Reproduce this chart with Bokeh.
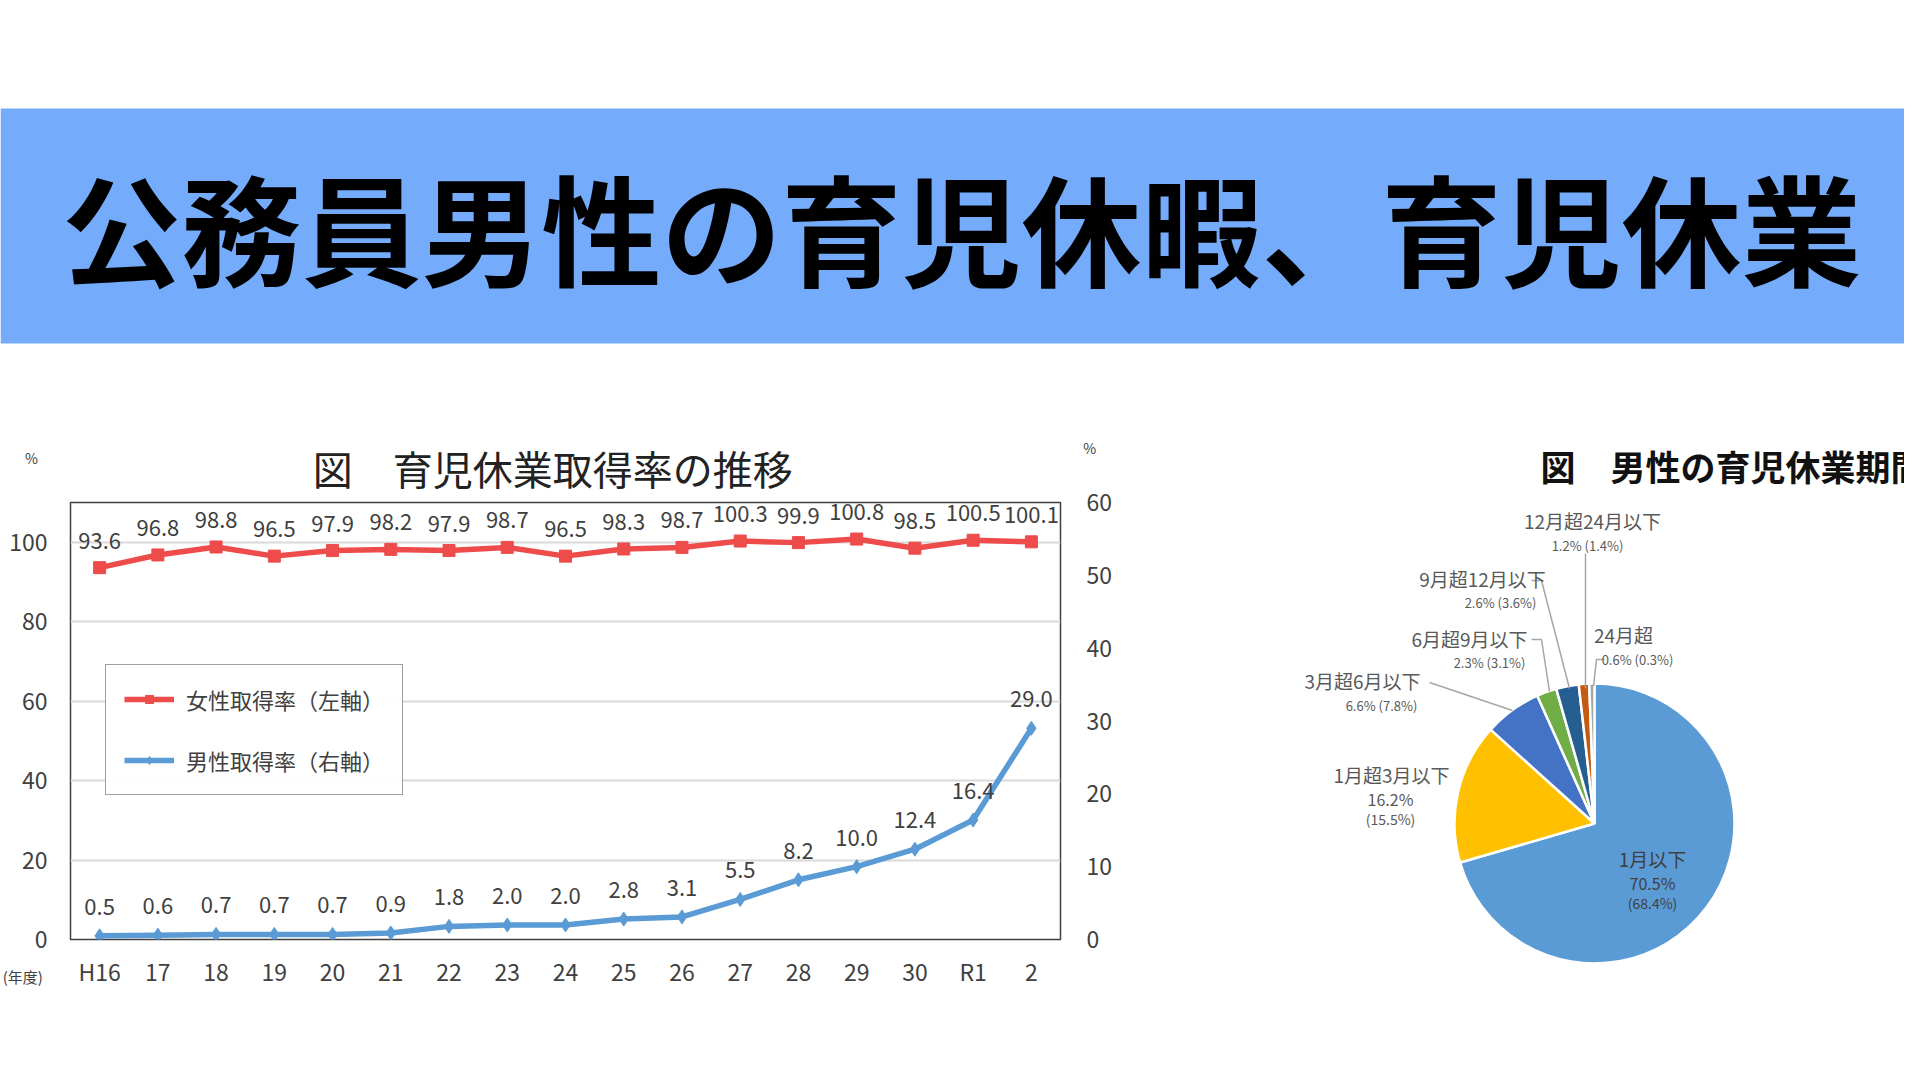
from bokeh.plotting import figure
from bokeh.models import Range1d, LinearAxis, FactorRange, FixedTicker, Legend, LegendItem, Label, ColumnDataSource
from bokeh.layouts import column, row
from bokeh.embed import file_html
from bokeh.resources import INLINE
from bokeh.core.properties import value
import numpy as np

FONT = "Noto Sans CJK JP"
TXT = "#404040"

# ---------------- data ----------------
banner_title = "公務員男性の育児休暇、育児休業"

line_title = "図　育児休業取得率の推移"
years = ["H16", "17", "18", "19", "20", "21", "22", "23", "24", "25", "26", "27", "28", "29", "30", "R1", "2"]
women = [93.6, 96.8, 98.8, 96.5, 97.9, 98.2, 97.9, 98.7, 96.5, 98.3, 98.7, 100.3, 99.9, 100.8, 98.5, 100.5, 100.1]
men = [0.5, 0.6, 0.7, 0.7, 0.7, 0.9, 1.8, 2.0, 2.0, 2.8, 3.1, 5.5, 8.2, 10.0, 12.4, 16.4, 29.0]
women_label = "女性取得率（左軸）"
men_label = "男性取得率（右軸）"
left_ticks = [0, 20, 40, 60, 80, 100]
right_ticks = [0, 10, 20, 30, 40, 50, 60]
unit_label = "%"
year_unit = "(年度)"

pie_title = "図　男性の育児休業期間の状況"
periods = ["1月以下", "1月超3月以下", "3月超6月以下", "6月超9月以下", "9月超12月以下", "12月超24月以下", "24月超"]
share = [70.5, 16.2, 6.6, 2.3, 2.6, 1.2, 0.6]
share_prev = [68.4, 15.5, 7.8, 3.1, 3.6, 1.4, 0.3]

# ---------------- styles / layout ----------------
BANNER = "#74ACFB"
RED = "#EE4B4B"
BLUE = "#5B9BD5"
pie_colors = ["#5B9BD5", "#FFC000", "#4472C4", "#70AD47", "#255E91", "#C55A11", "#A5A5A5"]

W = 1904
TOP_H = 400
BH = 1064 - TOP_H
LW = 1130
PW = W - LW

# pie label layout: (name_x, name_y, value_x, value_y, stacked)
pie_label_pos = [
    (522, 206, 522, 182, True),
    (261, 290, 260, 266, True),
    (232, 384, 251, 359, False),
    (339, 426, 359, 402, False),
    (352, 486, 370, 462, False),
    (462, 544, 457, 519, False),
    (493, 430, 507, 405, False),
]
leader_xs = [[299, 382], [401, 411, 419], [401, 411, 439], [455, 455], [474, 466, 463]]
leader_ys = [[382, 354], [425, 425, 373], [484, 484, 376], [511, 376], [405, 405, 378]]
PIE_X, PIE_Y, PIE_R = 464, 241, 140

# ---------------- top canvas: banner ----------------
top = figure(width=W, height=TOP_H, x_range=Range1d(0, W), y_range=Range1d(0, TOP_H),
             output_backend="svg", toolbar_location=None, min_border=0,
             x_axis_location=None, y_axis_location=None, tools="")
top.grid.visible = False
top.outline_line_color = None
top.quad(left=0, right=W, bottom=TOP_H - 343, top=TOP_H - 108, fill_color=BANNER, line_color=None)
top.text(x=[961], y=[TOP_H - 225], text=[banner_title], text_font=value(FONT), text_font_size="120px",
         text_font_style="bold", text_align="center", text_baseline="middle", text_color="black")

# ---------------- line chart ----------------
src = ColumnDataSource(dict(
    year=years, women=women, men=men,
    wt=[f"{v:.1f}" for v in women], mt=[f"{v:.1f}" for v in men],
))

lp = figure(width=LW, height=BH, x_range=FactorRange(*years), y_range=Range1d(0, 110),
            output_backend="svg", toolbar_location=None, tools="",
            min_border_left=70, min_border_right=LW - 1060, min_border_top=502 - TOP_H,
            min_border_bottom=1064 - 939)
lp.frame_align = False
lp.extra_y_ranges = {"right": Range1d(0, 60)}
lp.outline_line_color = TXT
lp.outline_line_width = 1.5
lp.xgrid.visible = False
lp.ygrid.ticker = FixedTicker(ticks=left_ticks)
lp.ygrid.grid_line_color = "#D9D9D9"
lp.ygrid.grid_line_width = 2

lp.yaxis.ticker = FixedTicker(ticks=left_ticks)
raxis = LinearAxis(y_range_name="right", ticker=FixedTicker(ticks=right_ticks))
lp.add_layout(raxis, "right")
for ax in [lp.yaxis[0], raxis, lp.xaxis[0]]:
    ax.axis_line_color = None
    ax.major_tick_line_color = None
    ax.minor_tick_line_color = None
    ax.major_tick_out = 0
    ax.minor_tick_out = 0
    ax.major_label_text_font = FONT
    ax.major_label_text_font_size = "23px"
    ax.major_label_text_color = TXT
lp.yaxis[0].major_label_standoff = 23
raxis.major_label_standoff = 26
lp.xaxis[0].major_label_standoff = 14

wl = lp.line("year", "women", source=src, line_color=RED, line_width=5.5)
ws = lp.scatter("year", "women", source=src, marker="square", size=12, fill_color=RED, line_color=RED)
ml = lp.line("year", "men", source=src, line_color=BLUE, line_width=5.5, y_range_name="right")
ms = lp.scatter("year", "men", source=src, marker="diamond", size=14, fill_color=BLUE, line_color=BLUE,
                y_range_name="right")

lp.text("year", "women", text="wt", source=src, y_offset=-27, text_align="center", text_baseline="middle",
        text_font=value(FONT), text_font_size="22px", text_color=TXT)
lp.text("year", "men", text="mt", source=src, y_offset=-29, text_align="center", text_baseline="middle",
        text_font=value(FONT), text_font_size="22px", text_color=TXT, y_range_name="right")

# texts around the frame (side-panel annotations, positioned in data units)
lp.add_layout(Label(x=8.28, y=118.6, text=line_title, text_align="center", text_baseline="middle",
                    text_font=FONT, text_font_size="40px", text_color="#222222"), "above")
lp.add_layout(Label(x=-0.67, y=121.3, text=unit_label, text_align="center", text_baseline="middle",
                    text_font=FONT, text_font_size="14px", text_color=TXT), "above")
lp.add_layout(Label(x=17.5, y=123.6, text=unit_label, text_align="center", text_baseline="middle",
                    text_font=FONT, text_font_size="14px", text_color=TXT), "above")
lp.add_layout(Label(x=-0.82, y=-9.3, text=year_unit, text_align="center", text_baseline="middle",
                    text_font=FONT, text_font_size="15px", text_color=TXT), "below")

legend = Legend(items=[LegendItem(label=women_label, renderers=[wl, ws]),
                       LegendItem(label=men_label, renderers=[ml, ms])],
                location=(35, 144), orientation="vertical")
legend.label_text_font = FONT
legend.label_text_font_size = "22px"
legend.label_text_color = TXT
legend.border_line_color = TXT
legend.border_line_width = 1.5
legend.glyph_width = 50
legend.glyph_height = 20
legend.label_height = 20
legend.spacing = 29
legend.padding = 18
legend.label_standoff = 12
legend.margin = 0
lp.add_layout(legend)

# ---------------- pie chart ----------------
pp = figure(width=PW, height=BH, x_range=Range1d(0, PW), y_range=Range1d(0, BH),
            output_backend="svg", toolbar_location=None, tools="", min_border=0,
            x_axis_location=None, y_axis_location=None)
pp.frame_align = False
pp.grid.visible = False
pp.outline_line_color = None

frac = np.array(share) / np.sum(share)
cum = np.cumsum(frac)
start = np.pi / 2 - 2 * np.pi * (cum - frac)
end = np.pi / 2 - 2 * np.pi * cum
psrc = ColumnDataSource(dict(start=start, end=end, color=pie_colors))
pp.wedge(x=PIE_X, y=PIE_Y, radius=PIE_R, start_angle="start", end_angle="end", direction="clock",
         fill_color="color", line_color="white", line_width=2.5, source=psrc)

pp.multi_line(xs=leader_xs, ys=leader_ys, line_color="#A6A6A6", line_width=1.5)

PTXT = "#595959"
for i, (nx, ny, vx, vy, stacked) in enumerate(pie_label_pos):
    col = "#404040" if i == 0 else PTXT
    pp.text(x=[nx], y=[ny], text=[periods[i]], text_align="center", text_baseline="middle",
            text_font=value(FONT), text_font_size="19px", text_color=col)
    if stacked:
        pp.text(x=[vx], y=[vy], text=[f"{share[i]:.1f}%"], text_align="center", text_baseline="middle",
                text_font=value(FONT), text_font_size="16px", text_color=col)
        pp.text(x=[vx], y=[vy - 20], text=[f"({share_prev[i]:.1f}%)"], text_align="center",
                text_baseline="middle", text_font=value(FONT), text_font_size="14px", text_color=col)
    else:
        pp.text(x=[vx], y=[vy], text=[f"{share[i]:.1f}% ({share_prev[i]:.1f}%)"], text_align="center",
                text_baseline="middle", text_font=value(FONT), text_font_size="13px", text_color=col)

pp.text(x=[1540 - LW], y=[1064 - 465], text=[pie_title], text_align="left", text_baseline="middle",
        text_font=value(FONT), text_font_size="35px", text_font_style="bold", text_color="#111111")

layout = column(top, row(lp, pp, spacing=0), spacing=0)
open("out.html", "w").write(file_html(layout, INLINE))
